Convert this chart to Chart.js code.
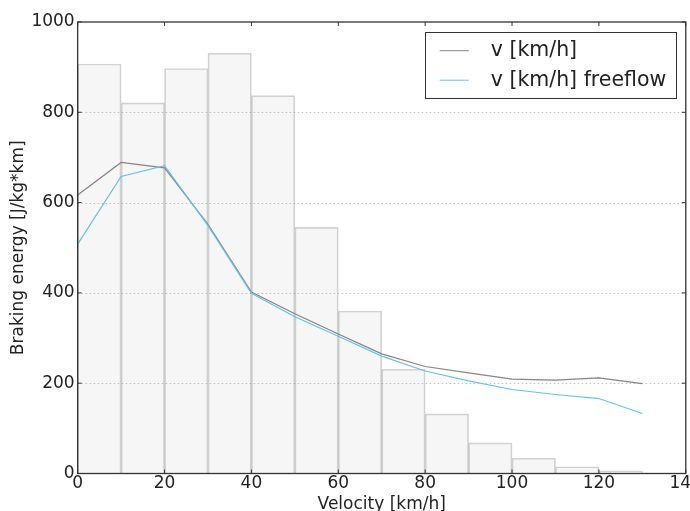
<!DOCTYPE html>
<html>
<head>
<meta charset="utf-8">
<script src="https://cdn.jsdelivr.net/npm/chart.js@4/dist/chart.umd.min.js"></script>
<style>
  html, body { margin: 0; padding: 0; background: #fff; overflow: hidden; width: 690px; height: 511px; }
  canvas { display: block; }
</style>
</head>
<body>
<canvas id="c" width="705" height="511"></canvas>
<script>
// Histogram of velocity samples (bin centers, km/h) and heights
const binCenters = [5, 15, 25, 35, 45, 55, 65, 75, 85, 95, 105, 115, 125];
const binHeights = [907, 821, 897, 931, 837, 545, 360, 231, 132, 68, 34, 15, 6];

// Braking energy curves
const velocities = [0, 10, 20, 30, 40, 50, 60, 70, 80, 90, 100, 110, 120, 130];
const energyAll = [617, 689, 677, 552, 402, 354, 309, 265, 237, 223, 209, 207, 212, 199];
const energyFreeflow = [508, 658, 682, 549, 399, 347, 304, 260, 227, 205, 186, 175, 166, 133];

const seriesLabels = ['v [km/h]', 'v [km/h] freeflow'];
const xTitle = 'Velocity [km/h]';
const yTitle = 'Braking energy [J/kg*km]';

const FONT = '"DejaVu Sans", sans-serif';
const TEXT = '#222222';

const framePlugin = {
  id: 'frame',
  beforeDatasetsDraw(chart) {
    const {ctx, chartArea: a, scales} = chart;
    ctx.save();
    ctx.strokeStyle = '#c4c4c4';
    ctx.lineWidth = 1;
    ctx.setLineDash([1.5, 2.5]);
    scales.y.ticks.forEach(t => {
      if (t.value <= scales.y.min || t.value >= scales.y.max) return;
      const y = Math.round(scales.y.getPixelForValue(t.value)) + 0.5;
      ctx.beginPath(); ctx.moveTo(a.left, y); ctx.lineTo(a.right, y); ctx.stroke();
    });
    ctx.restore();
  },
  afterDatasetsDraw(chart) {
    const {ctx, chartArea: a, scales} = chart;
    ctx.save();
    ctx.strokeStyle = '#333333';
    ctx.lineWidth = 1.3;
    ctx.strokeRect(a.left, a.top, a.right - a.left, a.bottom - a.top);
    ctx.lineWidth = 1;
    const tl = 4;
    scales.x.ticks.forEach(t => {
      const x = scales.x.getPixelForValue(t.value);
      ctx.beginPath();
      ctx.moveTo(x, a.bottom); ctx.lineTo(x, a.bottom - tl);
      ctx.moveTo(x, a.top); ctx.lineTo(x, a.top + tl);
      ctx.stroke();
    });
    scales.y.ticks.forEach(t => {
      const y = scales.y.getPixelForValue(t.value);
      ctx.beginPath();
      ctx.moveTo(a.left, y); ctx.lineTo(a.left + tl, y);
      ctx.moveTo(a.right, y); ctx.lineTo(a.right - tl, y);
      ctx.stroke();
    });
    ctx.restore();
  },
  afterDraw(chart) {
    // legend box inside plot, upper right, in series order
    const {ctx, chartArea: a} = chart;
    const lines = chart.data.datasets.filter(d => d.type === 'line');
    ctx.save();
    ctx.font = '20.5px ' + FONT;
    const textW = Math.max(...lines.map(d => ctx.measureText(d.label).width));
    const padL = 15, sample = 29, gap = 22, padR = 9, rowH = 29.5;
    const w = padL + sample + gap + textW + padR;
    const h = 66;
    const right = a.right - 10.5, top = a.top + 10;
    const left = right - w;
    ctx.fillStyle = '#ffffff';
    ctx.fillRect(left, top, w, h);
    ctx.strokeStyle = '#333333';
    ctx.lineWidth = 1;
    ctx.strokeRect(Math.round(left) + 0.5, Math.round(top) + 0.5, Math.round(w), Math.round(h));
    lines.forEach((d, i) => {
      const y = top + 18.7 + i * rowH;
      ctx.strokeStyle = d.borderColor;
      ctx.lineWidth = 1;
      ctx.beginPath();
      ctx.moveTo(left + padL, y); ctx.lineTo(left + padL + sample, y);
      ctx.stroke();
      ctx.fillStyle = TEXT;
      ctx.textBaseline = 'middle';
      ctx.textAlign = 'left';
      ctx.fillText(d.label, left + padL + sample + gap, y);
    });
    ctx.restore();
  }
};

const plainNumber = (v) => String(v);

const chart = new Chart(document.getElementById('c'), {
  type: 'bar',
  data: {
    datasets: [
      {
        type: 'line',
        label: seriesLabels[0],
        data: velocities.map((v, i) => ({x: v, y: energyAll[i]})),
        borderColor: '#858585',
        borderWidth: 1.2,
        pointRadius: 0,
        tension: 0,
        fill: false,
        order: 1
      },
      {
        type: 'line',
        label: seriesLabels[1],
        data: velocities.map((v, i) => ({x: v, y: energyFreeflow[i]})),
        borderColor: '#66c2e6',
        borderWidth: 1.2,
        pointRadius: 0,
        tension: 0,
        fill: false,
        order: 0
      },
      {
        type: 'bar',
        label: 'histogram',
        data: binCenters.map((c, i) => ({x: c, y: binHeights[i]})),
        backgroundColor: 'rgba(128,128,128,0.075)',
        borderColor: 'rgba(120,120,120,0.32)',
        borderWidth: 1,
        barPercentage: 1,
        categoryPercentage: 1,
        order: 2
      }
    ]
  },
  options: {
    responsive: false,
    animation: false,
    devicePixelRatio: 1,
    layout: { padding: { left: 4, top: 22, right: 0, bottom: 1 } },
    plugins: {
      legend: { display: false },
      tooltip: { enabled: false }
    },
    scales: {
      x: {
        type: 'linear',
        min: 0,
        max: 140,
        offset: false,
        grid: { display: false, drawTicks: false },
        border: { display: false },
        ticks: { stepSize: 20, color: TEXT, padding: 3, callback: plainNumber, font: { family: FONT, size: 17, lineHeight: 0.85 }, maxRotation: 0 },
        title: { display: true, text: xTitle, color: TEXT, font: { family: FONT, size: 17, lineHeight: 0.65 }, padding: { top: 5, bottom: 0 } }
      },
      y: {
        min: 0,
        max: 1000,
        grid: { display: false, drawTicks: false },
        border: { display: false },
        ticks: { stepSize: 200, color: TEXT, padding: 3, callback: plainNumber, font: { family: FONT, size: 17 } },
        title: { display: true, text: yTitle, color: TEXT, font: { family: FONT, size: 17 }, padding: { top: 4, bottom: 0 } }
      }
    }
  },
  plugins: [framePlugin]
});
</script>
</body>
</html>
